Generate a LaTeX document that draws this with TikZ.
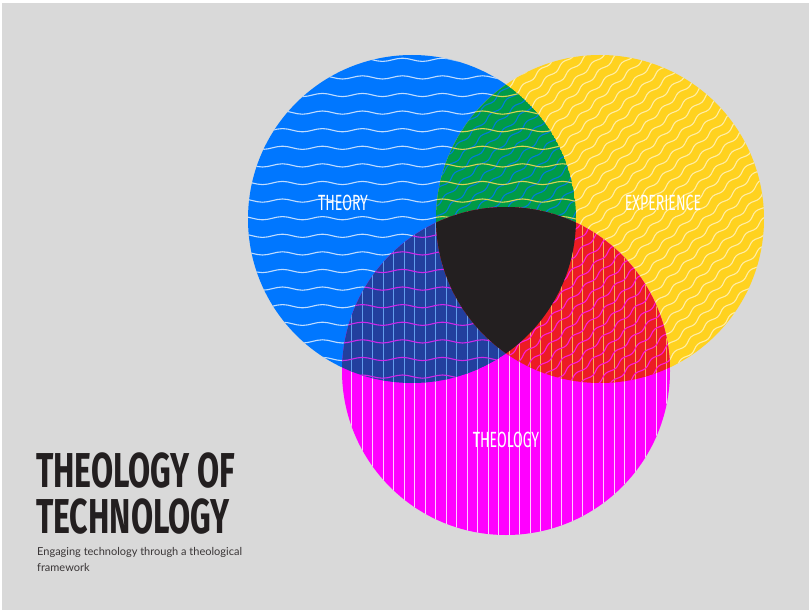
\documentclass[tikz,border=0pt]{standalone}
\usepackage{fontspec}
\setmainfont{Lato}
\newfontfamily\labfont[FakeStretch=0.64]{Fira Sans}
\newfontfamily\titfont[FakeStretch=0.655]{Fira Sans}
\usetikzlibrary{decorations.pathmorphing}
\definecolor{bg}{HTML}{D9D9D9}
\definecolor{cblue}{HTML}{0077FF}
\definecolor{cyel}{HTML}{FFD21F}
\definecolor{cmag}{HTML}{FF00FF}
\definecolor{cgreen}{HTML}{009B48}
\definecolor{cdblue}{HTML}{223F9E}
\definecolor{cred}{HTML}{EC1C24}
\definecolor{cblack}{HTML}{231F20}
\definecolor{ctext}{HTML}{231F20}
\newcommand{\hwaves}[1]{%
  \foreach \yy in {24.6,42.2,...,400}
    \draw[#1, line width=1.1pt, decorate, decoration={snake, segment length=40pt, amplitude=1.6pt}] (230,\yy) -- (600,\yy);}
\newcommand{\dwaves}[1]{%
  \begin{scope}[rotate around={42:(cY)}]
  \foreach \k in {-18,...,18}
    \draw[#1, line width=1.1pt, decorate, decoration={snake, segment length=22pt, amplitude=1.5pt}] ([xshift=-260pt,yshift=\k*10pt]cY) -- ([xshift=260pt,yshift=\k*10pt]cY);
  \end{scope}}
\newcommand{\vlines}[1]{%
  \foreach \xx in {351.7,362.2,...,680}
    \draw[#1, line width=0.9pt] (\xx,200) -- (\xx,540);}
\tikzset{
  lab/.style={text=white, font=\labfont\fontsize{22}{22}\selectfont, anchor=base, inner sep=0pt},
  tit/.style={text=ctext, font=\titfont\bfseries\fontsize{49}{49}\selectfont, anchor=base west, inner sep=0pt},
  sub/.style={text=ctext!90, font=\fontsize{11}{12}\selectfont, anchor=base west, inner sep=0pt}
}
\begin{document}
\begin{tikzpicture}[x=1pt,y=-1pt]
\useasboundingbox (0,0) rectangle (809,610);
\fill[white] (0,0) rectangle (809,610);
\fill[bg] (2,3) rectangle (809,610);
\coordinate (cB) at (412,219);
\coordinate (cY) at (600,219);
\coordinate (cM) at (506,371);
% blue
\fill[cblue] (cB) circle[radius=164pt];
\begin{scope}\clip (cB) circle[radius=164pt]; \hwaves{white, opacity=0.75} \end{scope}
% yellow
\fill[cyel] (cY) circle[radius=164pt];
\begin{scope}\clip (cY) circle[radius=164pt]; \dwaves{white, opacity=0.6} \end{scope}
% magenta
\fill[cmag] (cM) circle[radius=164pt];
\begin{scope}\clip (cM) circle[radius=164pt]; \vlines{white, opacity=0.8} \end{scope}
% green
\begin{scope}\clip (cB) circle[radius=164pt]; \clip (cY) circle[radius=164pt];
  \fill[cgreen] (cB) circle[radius=164pt];
  \dwaves{cblue!80!cgreen}
  \hwaves{cyel!75!white!85!cgreen}
\end{scope}
% dark blue
\begin{scope}\clip (cB) circle[radius=164pt]; \clip (cM) circle[radius=164pt];
  \fill[cdblue] (cB) circle[radius=164pt];
  \vlines{cblue!55!white!80!cdblue}
  \hwaves{cmag!75!cdblue!90!white}
\end{scope}
% red
\begin{scope}\clip (cY) circle[radius=164pt]; \clip (cM) circle[radius=164pt];
  \fill[cred] (cY) circle[radius=164pt];
  \vlines{cyel!70!white!75!cred}
  \dwaves{cmag!80!cred!90!white}
\end{scope}
% black
\begin{scope}\clip (cB) circle[radius=164pt]; \clip (cY) circle[radius=164pt];
  \fill[cblack] (cM) circle[radius=164pt];
\end{scope}
% labels
\node[lab] (theory) at (343,210) {THEORY};
\node[lab] (experience) at (663,210) {EXPERIENCE};
\node[lab] (theology) at (506,447) {THEOLOGY};
\node[tit] (t1) at (36,487) {THEOLOGY OF};
\node[tit] (t2) at (36,533) {TECHNOLOGY};
\node[sub] (s1) at (37,555) {Engaging technology through a theological};
\node[sub] (s2) at (37,571) {framework};
\end{tikzpicture}
\end{document}
